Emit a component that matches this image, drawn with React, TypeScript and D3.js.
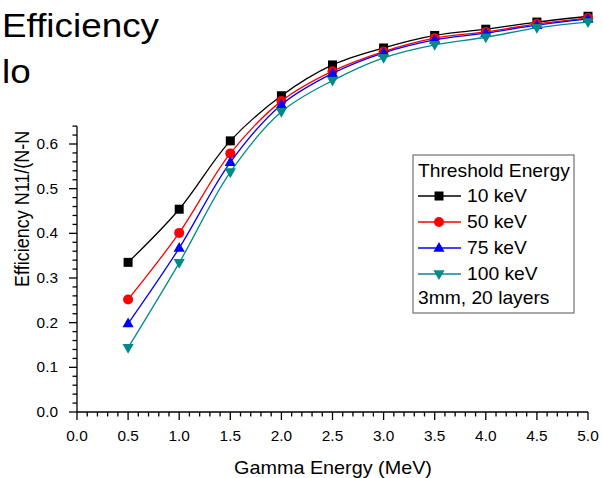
import React from "react";
import * as d3 from "d3";

const gammaEnergy = [0.5, 1.0, 1.5, 2.0, 2.5, 3.0, 3.5, 4.0, 4.5, 5.0];
const eff10 = [0.335, 0.454, 0.607, 0.708, 0.777, 0.815, 0.843, 0.857, 0.873, 0.886];
const eff50 = [0.252, 0.401, 0.579, 0.696, 0.763, 0.807, 0.837, 0.851, 0.869, 0.882];
const eff75 = [0.198, 0.367, 0.559, 0.688, 0.758, 0.804, 0.833, 0.848, 0.866, 0.880];
const eff100 = [0.144, 0.334, 0.537, 0.672, 0.742, 0.793, 0.822, 0.839, 0.860, 0.873];
const seriesNames = ["10 keV", "50 keV", "75 keV", "100 keV"];
const xTicks = [0, 0.5, 1.0, 1.5, 2.0, 2.5, 3.0, 3.5, 4.0, 4.5, 5.0];
const yTicks = [0, 0.1, 0.2, 0.3, 0.4, 0.5, 0.6];

const colors = ["#000000", "#ff0000", "#0000ff", "#008b8b"];
const shapes = ["square", "circle", "triangleUp", "triangleDown"];
const FONT = "'Liberation Sans', Arial, Helvetica, sans-serif";
const SX = 1.1;

function Marker({ shape, x, y, color }: { shape: string; x: number; y: number; color: string }) {
  if (shape === "square") return <rect x={x - 4.5} y={y - 4.5} width={9} height={9} fill={color} />;
  if (shape === "circle") return <circle cx={x} cy={y} r={5} fill={color} />;
  if (shape === "triangleUp")
    return <path d={`M${x},${y - 6}L${x + 5.6},${y + 3.8}L${x - 5.6},${y + 3.8}Z`} fill={color} />;
  return <path d={`M${x},${y + 6}L${x + 5.6},${y - 3.8}L${x - 5.6},${y - 3.8}Z`} fill={color} />;
}

function T({ x, y, size, anchor = "start", children, rotate = false }: any) {
  const tr = rotate ? `translate(${x},${y}) scale(${SX},1) rotate(-90)` : `translate(${x},${y}) scale(${SX},1)`;
  return (
    <text transform={tr} fontSize={size} fontFamily={FONT} textAnchor={anchor} fill="#000">
      {children}
    </text>
  );
}

export default function App() {
  const x = d3.scaleLinear().domain([0, 5]).range([77, 588]);
  const y = d3.scaleLinear().domain([0, 0.6]).range([412, 144]);
  const series = [eff10, eff50, eff75, eff100];
  const line = d3
    .line<number>()
    .x((_, i) => x(gammaEnergy[i]))
    .y((d) => y(d))
    .curve(d3.curveCatmullRom.alpha(0.5));

  const xMinor = d3.range(0, 5.0001, 0.1);
  const yMinor = d3.range(0, 0.6401, 0.02);
  const yTop = y(0.64);

  const lg = { x: 413, y: 155, w: 161, h: 158 };
  const rowY = [196, 222, 248, 274];

  return (
    <svg width={602} height={478} style={{ position: "absolute", left: 0, top: 0, background: "#fff" }}>
      <defs>
        <clipPath id="ylabclip">
          <rect x={0} y={122} width={60} height={300} />
        </clipPath>
      </defs>
      <rect width={602} height={478} fill="#fff" />
      {/* title fragments */}
      <T x={2} y={37} size={33.5}>Efficiency</T>
      <T x={2} y={83} size={33.5}>lo</T>

      {/* axes */}
      <g stroke="#000" strokeWidth={1.3}>
        <line x1={x(0)} x2={x(0)} y1={yTop} y2={y(0)} />
        <line x1={x(0)} x2={x(5)} y1={y(0)} y2={y(0)} />
        {xMinor.map((v, i) => {
          const major = i % 5 === 0;
          return <line key={"xm" + i} x1={x(v)} x2={x(v)} y1={y(0)} y2={y(0) + (major ? 8 : 4.5)} />;
        })}
        {yMinor.map((v, i) => {
          const major = i % 5 === 0;
          return <line key={"ym" + i} x1={x(0) - (major ? 8 : 4.5)} x2={x(0)} y1={y(v)} y2={y(v)} />;
        })}
      </g>
      {xTicks.map((v) => (
        <T key={"xt" + v} x={x(v)} y={441} size={14} anchor="middle">
          {v.toFixed(1)}
        </T>
      ))}
      {yTicks.map((v) => (
        <T key={"yt" + v} x={58} y={y(v) + 5} size={14} anchor="end">
          {v.toFixed(1)}
        </T>
      ))}
      <T x={333} y={474} size={18} anchor="middle">Gamma Energy (MeV)</T>
      <g clipPath="url(#ylabclip)">
        <T x={29} y={287} size={18} rotate>Efficiency N11/(N-N</T>
      </g>

      {/* series */}
      {series.map((s, k) => (
        <g key={"s" + k}>
          <path d={line(s) || ""} fill="none" stroke={colors[k]} strokeWidth={1.3} />
          {s.map((v, i) => (
            <Marker key={i} shape={shapes[k]} x={x(gammaEnergy[i])} y={y(v)} color={colors[k]} />
          ))}
        </g>
      ))}

      {/* legend */}
      <rect x={lg.x} y={lg.y} width={lg.w} height={lg.h} fill="#fff" stroke="#555" strokeWidth={1} />
      <T x={418} y={177} size={17.5}>Threshold Energy</T>
      {seriesNames.map((n, k) => (
        <g key={"lg" + k}>
          <line x1={418} x2={461} y1={rowY[k]} y2={rowY[k]} stroke={colors[k]} strokeWidth={1.3} />
          <Marker shape={shapes[k]} x={439} y={rowY[k]} color={colors[k]} />
          <T x={467} y={rowY[k] + 6} size={17.5}>{n}</T>
        </g>
      ))}
      <T x={418} y={304} size={17.5}>3mm, 20 layers</T>
    </svg>
  );
}
